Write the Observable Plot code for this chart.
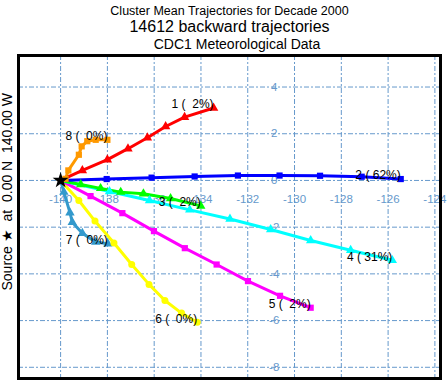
<!DOCTYPE html>
<html>
<head>
<meta charset="utf-8">
<script src="https://cdn.jsdelivr.net/npm/d3@7"></script>
<script src="https://cdn.jsdelivr.net/npm/@observablehq/plot@0.6"></script>
<style>
  body { margin: 0; background: white; }
  svg text { white-space: pre; }
</style>
</head>
<body>
<div id="chart"></div>
<script>
// ---- data (lon, lat pairs of each cluster mean trajectory) ----
const clusterIds = [1, 2, 3, 4, 5, 6, 7, 8];
const clusterPct = [2, 62, 2, 31, 2, 0, 0, 0];
const traj1 = [[-140,0],[-139.07,0.43],[-138.0,0.89],[-137.12,1.36],[-136.29,1.83],[-135.51,2.31],[-134.70,2.71],[-133.46,3.10]];
const traj2 = [[-140,0],[-138.03,0.06],[-136.11,0.12],[-134.27,0.17],[-132.42,0.21],[-130.64,0.21],[-128.91,0.20],[-127.13,0.16],[-125.46,0.06]];
const traj3 = [[-140,0],[-139.14,-0.17],[-138.29,-0.34],[-137.43,-0.50],[-136.46,-0.57],[-135.30,-0.77],[-134.01,-1.09]];
const traj4 = [[-140,0],[-137.91,-0.47],[-136.20,-0.86],[-134.48,-1.26],[-132.76,-1.65],[-131.02,-2.10],[-129.31,-2.57],[-127.60,-2.99],[-125.82,-3.42]];
const traj5 = [[-140,0],[-138.72,-0.67],[-137.36,-1.40],[-136.01,-2.17],[-134.69,-2.90],[-133.33,-3.60],[-131.99,-4.31],[-130.62,-4.94],[-129.31,-5.45]];
const traj6 = [[-140,0],[-139.22,-0.86],[-138.53,-1.74],[-137.72,-2.68],[-136.96,-3.60],[-136.22,-4.45],[-135.54,-5.14],[-134.83,-5.68],[-134.16,-6.07]];
const traj7 = [[-140,0],[-139.86,-0.50],[-139.60,-1.38],[-139.50,-1.79],[-139.07,-2.26],[-138.50,-2.64],[-137.98,-2.71]];
const traj8 = [[-140,0],[-139.79,0.07],[-139.67,0.43],[-139.22,1.10],[-139.10,1.46],[-138.86,1.68],[-138.50,1.74],[-138.0,1.74]];
const source = [[-140, 0]];
const lonTicks = [-140, -138, -136, -134, -132, -130, -128, -126, -124];
const latTicks = [4, 2, 0, -2, -4, -6, -8];
const titleLines = ["Cluster Mean Trajectories for Decade 2000", "14612 backward trajectories", "CDC1 Meteorological Data"];
const sourceLabel = "Source \u2605  at  0.00 N  140.00 W";

// ---- styles ----
const colors = ["#ff0000", "#0000ff", "#00ff00", "#00ffff", "#ff00ff", "#ffff00", "#3399cc", "#ff9900"];
const symbols = ["triangle", "square", "triangle", "triangle", "square", "circle", "triangle", "square"];
const gridColor = "#6699cc";

const trajs = [traj1, traj2, traj3, traj4, traj5, traj6, traj7, traj8];
const rows = [];
trajs.forEach((t, i) => t.forEach(([lon, lat], j) => rows.push({cluster: clusterIds[i], lon, lat, idx: j, last: j === t.length - 1})));
const drawOrder = [...rows].sort((a, b) => b.cluster - a.cluster);
const ends = rows.filter(d => d.last).map(d => ({...d, label: `${d.cluster} (${String(clusterPct[d.cluster - 1]).padStart(3, " ")}%)`}));

const latLabelLon = -130.87;
const lonLabelLat = -0.81;

const chart = Plot.plot({
  width: 447,
  height: 380,
  marginLeft: 18,
  marginRight: 7,
  marginTop: 55,
  marginBottom: 2,
  x: {domain: [-141.8, -123.76], axis: null},
  y: {domain: [-8.48, 5.35], axis: null},
  color: {domain: clusterIds, range: colors},
  symbol: {domain: clusterIds, range: symbols},
  style: {fontFamily: "'Liberation Sans', Arial, sans-serif", background: "white", overflow: "visible"},
  marks: [
    Plot.ruleX(lonTicks, {stroke: gridColor, strokeWidth: 1, strokeDasharray: "5,2,2,2"}),
    Plot.ruleY(latTicks, {stroke: gridColor, strokeWidth: 1, strokeDasharray: "5,2,2,2"}),
    Plot.text(lonTicks, {x: d => d, y: () => lonLabelLat, text: d => String(d), fill: gridColor, fontSize: 11.5, textAnchor: "middle"}),
    Plot.text(latTicks, {x: () => latLabelLon, y: d => d, text: d => String(d), fill: gridColor, fontSize: 11.5, textAnchor: "middle"}),
    Plot.line(drawOrder, {x: "lon", y: "lat", z: "cluster", stroke: "cluster", strokeWidth: 3, strokeLinejoin: "round"}),
    Plot.dot(drawOrder.filter(d => d.idx > 0), {x: "lon", y: "lat", fill: "cluster", symbol: "cluster", r: 3.5, stroke: "none"}),
    Plot.text(ends, {x: "lon", y: "lat", text: "label", textAnchor: "end", dy: -3.5, fontSize: 12, fill: "black"}),
    Plot.dot(source, {x: d => d[0], y: d => d[1], symbol: "star", fill: "black", r: 5}),
    Plot.frame({stroke: "black", strokeWidth: 3}),
    Plot.text([titleLines[0]], {text: d => d, frameAnchor: "top", dy: -49, fontSize: 12.5, fill: "black"}),
    Plot.text([titleLines[1]], {text: d => d, frameAnchor: "top", dy: -34.5, fontSize: 16, fill: "black"}),
    Plot.text([titleLines[2]], {text: d => d, frameAnchor: "top", dx: 7.5, dy: -16.7, fontSize: 14, fill: "black"}),
    Plot.text([sourceLabel], {text: d => d, frameAnchor: "left", textAnchor: "start", rotate: -90, dx: -11, dy: 73.5, fontSize: 14, fill: "black"})
  ]
});
document.getElementById("chart").appendChild(chart);
</script>
</body>
</html>
